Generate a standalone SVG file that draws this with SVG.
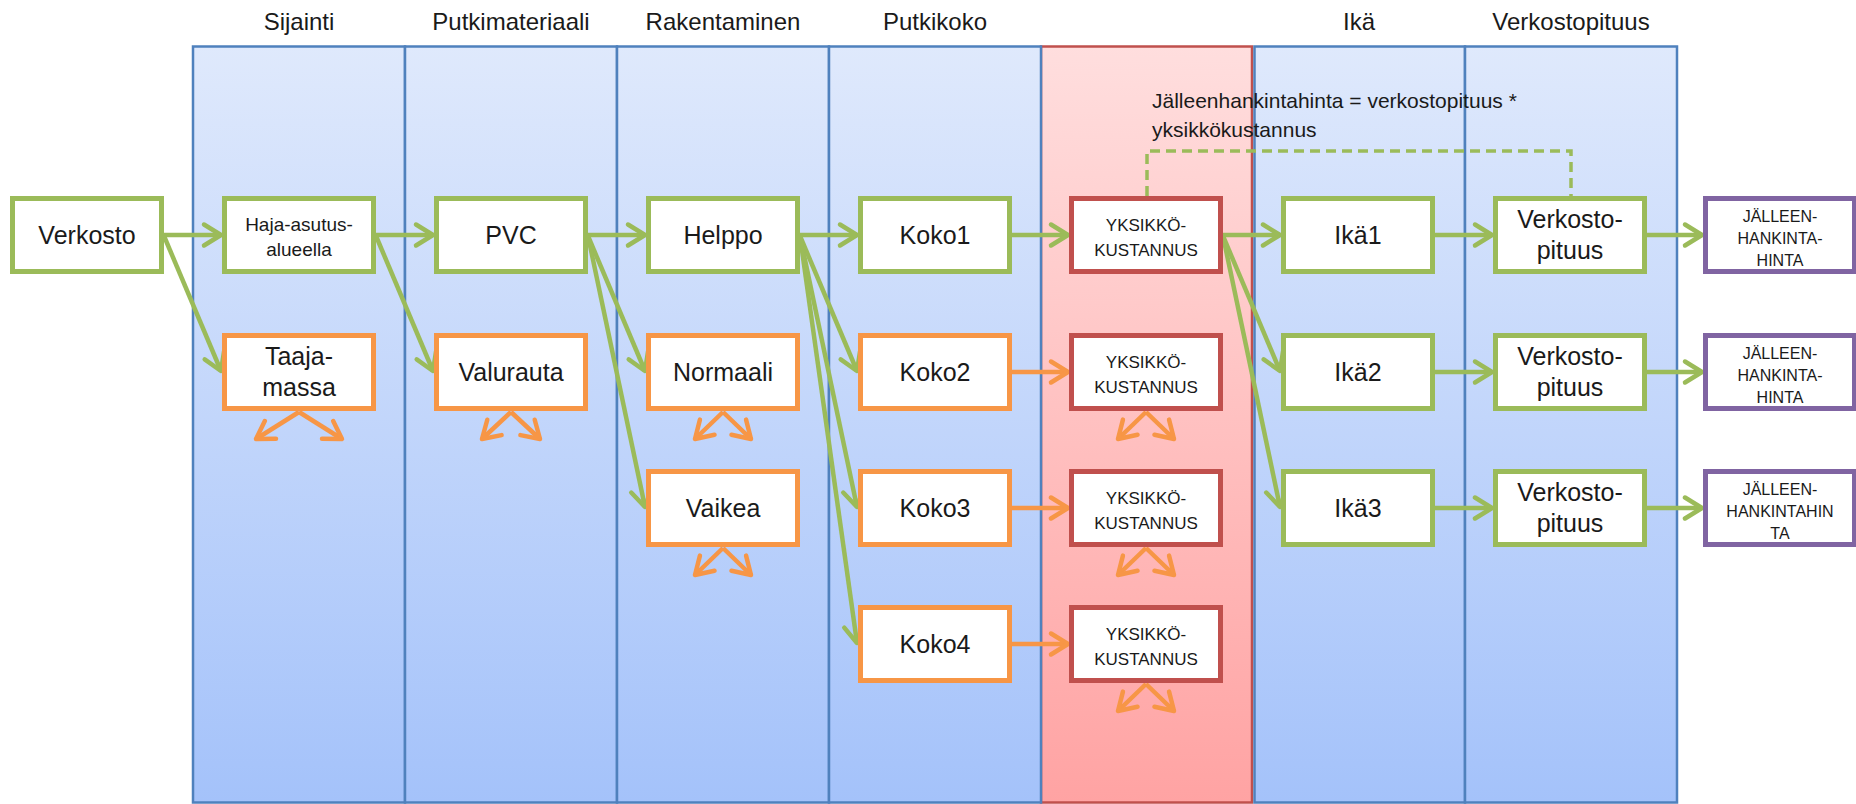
<svg xmlns="http://www.w3.org/2000/svg" width="1856" height="804" viewBox="0 0 1856 804">
<defs>
<linearGradient id="gBlue" x1="0" y1="0" x2="0" y2="1">
<stop offset="0" stop-color="#DFE9FC"/>
<stop offset="1" stop-color="#A4C2FA"/>
</linearGradient>
<linearGradient id="gRed" x1="0" y1="0" x2="0" y2="1">
<stop offset="0" stop-color="#FFDEDE"/>
<stop offset="1" stop-color="#FFA3A3"/>
</linearGradient>
<marker id="ag" markerUnits="userSpaceOnUse" markerWidth="40" markerHeight="40" viewBox="-20 -20 40 40" refX="0" refY="0" orient="auto" overflow="visible">
<path d="M-17,-10.5 L0,0 L-17,10.5" fill="none" stroke="#9BBB59" stroke-width="4.5" stroke-linecap="round" stroke-linejoin="round"/>
</marker>
<marker id="ao" markerUnits="userSpaceOnUse" markerWidth="40" markerHeight="40" viewBox="-20 -20 40 40" refX="0" refY="0" orient="auto" overflow="visible">
<path d="M-17,-10.5 L0,0 L-17,10.5" fill="none" stroke="#F79646" stroke-width="4.5" stroke-linecap="round" stroke-linejoin="round"/>
</marker>
</defs>
<style>
.col{fill:url(#gBlue);stroke:#4F81BD;stroke-width:2.5}
.colr{fill:url(#gRed);stroke:#C0504D;stroke-width:2.5}
.hdr{font-family:"Liberation Sans",Arial,sans-serif;font-size:24px;fill:#1a1a1a;text-anchor:middle}
.box{fill:#fff;stroke-width:5}
.g{stroke:#9BBB59}
.o{stroke:#F79646}
.r{stroke:#C0504D}
.p{stroke:#8064A2}
.t{font-family:"Liberation Sans",Arial,sans-serif;font-size:25px;fill:#1a1a1a;text-anchor:middle}
.ts{font-family:"Liberation Sans",Arial,sans-serif;font-size:19px;fill:#1a1a1a;text-anchor:middle}
.tc{font-family:"Liberation Sans",Arial,sans-serif;font-size:17px;fill:#1a1a1a;text-anchor:middle}
.tj{font-family:"Liberation Sans",Arial,sans-serif;font-size:16px;fill:#1a1a1a;text-anchor:middle}
.note{font-family:"Liberation Sans",Arial,sans-serif;font-size:21px;fill:#1a1a1a}
.lg{fill:none;stroke:#9BBB59;stroke-width:4.5;marker-end:url(#ag)}
.lo{fill:none;stroke:#F79646;stroke-width:4.5;marker-end:url(#ao)}
.dash{fill:none;stroke:#9BBB59;stroke-width:3.5;stroke-dasharray:10 6}
</style>

<g id="columns">
<rect class="colr" x="1041" y="46.5" width="211" height="756"/>
<rect class="col" x="193" y="46.5" width="212" height="756"/>
<rect class="col" x="405" y="46.5" width="212" height="756"/>
<rect class="col" x="617" y="46.5" width="212" height="756"/>
<rect class="col" x="829" y="46.5" width="212" height="756"/>
<rect class="col" x="1254.5" y="46.5" width="210.5" height="756"/>
<rect class="col" x="1465" y="46.5" width="212" height="756"/>
</g>

<g id="headers">
<text class="hdr" x="299" y="30">Sijainti</text>
<text class="hdr" x="511" y="30">Putkimateriaali</text>
<text class="hdr" x="723" y="30">Rakentaminen</text>
<text class="hdr" x="935" y="30">Putkikoko</text>
<text class="hdr" x="1359" y="30">Ikä</text>
<text class="hdr" x="1571" y="30">Verkostopituus</text>
</g>

<g id="note">
<text class="note" x="1152" y="108">Jälleenhankintahinta = verkostopituus *</text>
<text class="note" x="1152" y="137">yksikkökustannus</text>
</g>

<g id="connectors">
<path class="dash" d="M1147,196 V151 H1571 V196"/>
<path class="lg" d="M164,235 H221"/>
<path class="lg" d="M376,235 H433"/>
<path class="lg" d="M588,235 H645"/>
<path class="lg" d="M800,235 H857"/>
<path class="lg" d="M1012,235 H1068"/>
<path class="lg" d="M1223,235 H1280"/>
<path class="lg" d="M1435,235 H1492"/>
<path class="lg" d="M1435,372 H1492"/>
<path class="lg" d="M1435,508 H1492"/>
<path class="lg" d="M1647,235 H1702"/>
<path class="lg" d="M1647,372 H1702"/>
<path class="lg" d="M1647,508 H1702"/>
<path class="lg" d="M164,236 L221,371"/>
<path class="lg" d="M376,236 L433,371"/>
<path class="lg" d="M588,236 L645,371"/>
<path class="lg" d="M588,236 L645,507"/>
<path class="lg" d="M800,236 L857,371"/>
<path class="lg" d="M800,236 L857,507"/>
<path class="lg" d="M800,236 L857,643"/>
<path class="lg" d="M1223,236 L1280,371"/>
<path class="lg" d="M1223,236 L1280,507"/>
<path class="lo" d="M1012,372 H1068"/>
<path class="lo" d="M1012,508 H1068"/>
<path class="lo" d="M1012,644 H1068"/>
<path class="lo" d="M299,412 L256,439"/>
<path class="lo" d="M299,412 L342,439"/>
<path class="lo" d="M511,412 L482,439"/>
<path class="lo" d="M511,412 L540,439"/>
<path class="lo" d="M723,412 L695,439"/>
<path class="lo" d="M723,412 L751,439"/>
<path class="lo" d="M723,548 L695,575"/>
<path class="lo" d="M723,548 L751,575"/>
<path class="lo" d="M1146,412 L1118,439"/>
<path class="lo" d="M1146,412 L1174,439"/>
<path class="lo" d="M1146,548 L1118,575"/>
<path class="lo" d="M1146,548 L1174,575"/>
<path class="lo" d="M1146,684 L1118,711"/>
<path class="lo" d="M1146,684 L1174,711"/>
</g>

<g id="verkosto"><rect class="box g" x="12.5" y="198.5" width="149" height="73"/><text class="t" x="87" y="244">Verkosto</text></g>
<g id="haja"><rect class="box g" x="224.5" y="198.5" width="149" height="73"/><text class="ts" x="299" y="230.5">Haja-asutus-</text><text class="ts" x="299" y="256">alueella</text></g>
<g id="taaja"><rect class="box o" x="224.5" y="335.5" width="149" height="73"/><text class="t" x="299" y="365">Taaja-</text><text class="t" x="299" y="396">massa</text></g>
<g id="pvc"><rect class="box g" x="436.5" y="198.5" width="149" height="73"/><text class="t" x="511" y="244">PVC</text></g>
<g id="valurauta"><rect class="box o" x="436.5" y="335.5" width="149" height="73"/><text class="t" x="511" y="381">Valurauta</text></g>
<g id="helppo"><rect class="box g" x="648.5" y="198.5" width="149" height="73"/><text class="t" x="723" y="244">Helppo</text></g>
<g id="normaali"><rect class="box o" x="648.5" y="335.5" width="149" height="73"/><text class="t" x="723" y="381">Normaali</text></g>
<g id="vaikea"><rect class="box o" x="648.5" y="471.5" width="149" height="73"/><text class="t" x="723" y="517">Vaikea</text></g>
<g id="koko1"><rect class="box g" x="860.5" y="198.5" width="149" height="73"/><text class="t" x="935" y="244">Koko1</text></g>
<g id="koko2"><rect class="box o" x="860.5" y="335.5" width="149" height="73"/><text class="t" x="935" y="381">Koko2</text></g>
<g id="koko3"><rect class="box o" x="860.5" y="471.5" width="149" height="73"/><text class="t" x="935" y="517">Koko3</text></g>
<g id="koko4"><rect class="box o" x="860.5" y="607.5" width="149" height="73"/><text class="t" x="935" y="653">Koko4</text></g>
<g id="yks1"><rect class="box r" x="1071.5" y="198.5" width="149" height="73"/><text class="tc" x="1146" y="231">YKSIKKÖ-</text><text class="tc" x="1146" y="256">KUSTANNUS</text></g>
<g id="yks2"><rect class="box r" x="1071.5" y="335.5" width="149" height="73"/><text class="tc" x="1146" y="368">YKSIKKÖ-</text><text class="tc" x="1146" y="393">KUSTANNUS</text></g>
<g id="yks3"><rect class="box r" x="1071.5" y="471.5" width="149" height="73"/><text class="tc" x="1146" y="504">YKSIKKÖ-</text><text class="tc" x="1146" y="529">KUSTANNUS</text></g>
<g id="yks4"><rect class="box r" x="1071.5" y="607.5" width="149" height="73"/><text class="tc" x="1146" y="640">YKSIKKÖ-</text><text class="tc" x="1146" y="665">KUSTANNUS</text></g>
<g id="ika1"><rect class="box g" x="1283.5" y="198.5" width="149" height="73"/><text class="t" x="1358" y="244">Ikä1</text></g>
<g id="ika2"><rect class="box g" x="1283.5" y="335.5" width="149" height="73"/><text class="t" x="1358" y="381">Ikä2</text></g>
<g id="ika3"><rect class="box g" x="1283.5" y="471.5" width="149" height="73"/><text class="t" x="1358" y="517">Ikä3</text></g>
<g id="vp1"><rect class="box g" x="1495.5" y="198.5" width="149" height="73"/><text class="t" x="1570" y="228">Verkosto-</text><text class="t" x="1570" y="259">pituus</text></g>
<g id="vp2"><rect class="box g" x="1495.5" y="335.5" width="149" height="73"/><text class="t" x="1570" y="365">Verkosto-</text><text class="t" x="1570" y="396">pituus</text></g>
<g id="vp3"><rect class="box g" x="1495.5" y="471.5" width="149" height="73"/><text class="t" x="1570" y="501">Verkosto-</text><text class="t" x="1570" y="532">pituus</text></g>
<g id="j1"><rect class="box p" x="1705.5" y="198.5" width="149" height="73"/><text class="tj" x="1780" y="222">JÄLLEEN-</text><text class="tj" x="1780" y="244">HANKINTA-</text><text class="tj" x="1780" y="266">HINTA</text></g>
<g id="j2"><rect class="box p" x="1705.5" y="335.5" width="149" height="73"/><text class="tj" x="1780" y="359">JÄLLEEN-</text><text class="tj" x="1780" y="381">HANKINTA-</text><text class="tj" x="1780" y="403">HINTA</text></g>
<g id="j3"><rect class="box p" x="1705.5" y="471.5" width="149" height="73"/><text class="tj" x="1780" y="495">JÄLLEEN-</text><text class="tj" x="1780" y="517">HANKINTAHIN</text><text class="tj" x="1780" y="539">TA</text></g>
</svg>
